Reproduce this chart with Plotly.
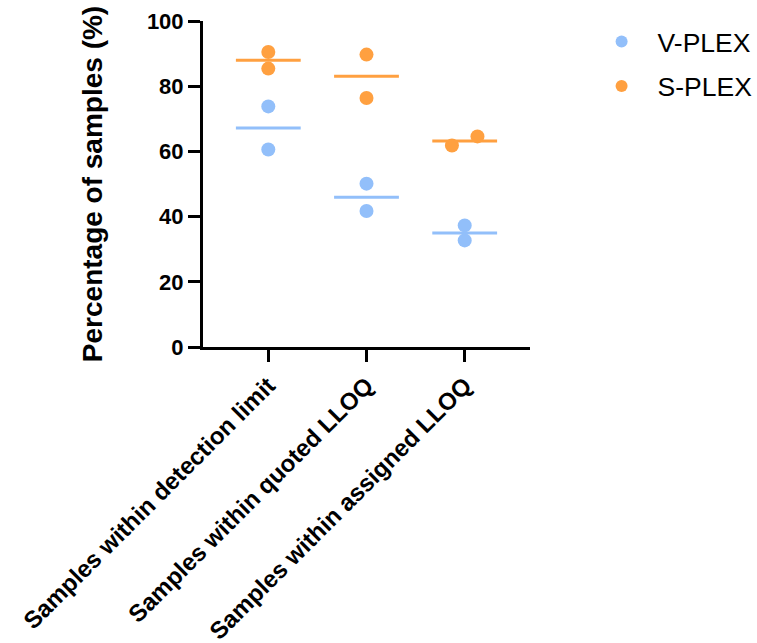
import plotly.graph_objects as go

categories = ["Samples within detection limit", "Samples within quoted LLOQ", "Samples within assigned LLOQ"]
vplex_values = [[73.8, 60.6], [50.1, 41.7], [37.3, 32.7]]
splex_values = [[90.5, 85.4], [89.7, 76.4], [61.8, 64.6]]
vplex_jitter = [[0, 0], [0, 0], [0, 0]]
splex_jitter = [[0, 0], [0, 0], [-0.13, 0.13]]

BLUE = "#92BFFA"
ORANGE = "#FFA040"
FONT = "Arial, Liberation Sans, sans-serif"

fig = go.Figure()

def add_series(name, values, jitter, color):
    xs, ys = [], []
    for i, (vals, jit) in enumerate(zip(values, jitter)):
        for v, j in zip(vals, jit):
            xs.append(i + j)
            ys.append(v)
    for i, vals in enumerate(values):
        m = sum(vals) / len(vals)
        fig.add_trace(go.Scatter(x=[i - 0.33, i + 0.33], y=[m, m], mode="lines",
                                 line=dict(color=color, width=3), showlegend=False,
                                 hoverinfo="skip"))
    fig.add_trace(go.Scatter(x=xs, y=ys, mode="markers", name=name, legendgroup=name,
                             marker=dict(color=color, size=14, line=dict(width=0))))

add_series("V-PLEX", vplex_values, vplex_jitter, BLUE)
add_series("S-PLEX", splex_values, splex_jitter, ORANGE)

fig.update_layout(
    width=757, height=643,
    margin=dict(l=203, r=227, t=21, b=296, autoexpand=False),
    plot_bgcolor="white", paper_bgcolor="white",
    font=dict(family=FONT, color="black"),
    legend=dict(x=1.17, y=1.01, xanchor="left", yanchor="top",
                font=dict(size=26.5, family=FONT), itemsizing="constant",
                tracegroupgap=7, itemwidth=62),
    showlegend=True,
)
fig.update_xaxes(
    range=[-0.665, 2.665], tickmode="array", tickvals=[0, 1, 2], ticktext=categories,
    tickangle=-45, showline=True, linecolor="black", linewidth=3,
    ticks="outside", ticklen=12, tickwidth=3, tickcolor="black",
    showgrid=False, zeroline=False, automargin=False,
    tickfont=dict(size=24, family=FONT, weight="bold"),
)
fig.update_yaxes(
    range=[0, 100], tickvals=[0, 20, 40, 60, 80, 100],
    showline=True, linecolor="black", linewidth=3,
    ticks="outside", ticklen=12, tickwidth=3, tickcolor="black",
    showgrid=False, zeroline=False, automargin=False,
    tickfont=dict(size=22, family=FONT, weight="bold"),
    title=dict(text="Percentage of samples (%)", font=dict(size=28, family=FONT, weight="bold"),
               standoff=37),
)

fig.write_html("out.html")
